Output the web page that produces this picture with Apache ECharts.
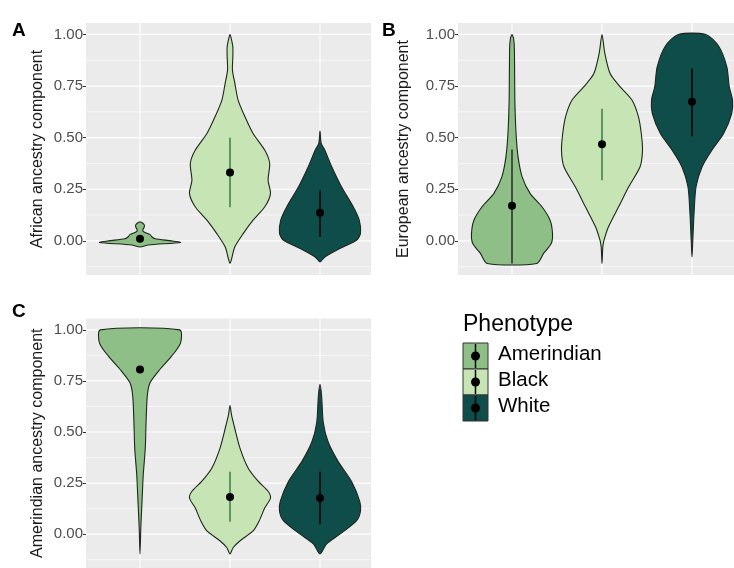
<!DOCTYPE html>
<html>
<head>
<meta charset="utf-8">
<script src="https://cdn.jsdelivr.net/npm/echarts@6/dist/echarts.min.js"></script>
<style>
  html, body { margin: 0; padding: 0; background: #ffffff; }
  #chart { width: 734px; height: 568px; }
</style>
</head>
<body>
<div id="chart"></div>
<script>
// Groups and their colours
const phenotypes = ['Amerindian', 'Black', 'White'];
const fillColors = ['#8dbf86', '#c7e5b4', '#0e4d4a'];
const rangeColors = ['#2a2a2a', '#3a7d44', '#000000'];

// Panels
const panelLetters = ['A', 'B', 'C'];
const axisTitles = ['African ancestry component', 'European ancestry component', 'Amerindian ancestry component'];
const tickValues = [0, 0.25, 0.5, 0.75, 1];
const minorTickValues = [-0.125, 0.125, 0.375, 0.625, 0.875];
const tickLabels = ['0.00', '0.25', '0.50', '0.75', '1.00'];

// Kernel density outlines: ancestry level and relative density (1 = widest)
// African component
const afrAmerLevels  = [-0.03, -0.02, -0.008, 0.0, 0.01, 0.02, 0.03, 0.045, 0.055, 0.065, 0.075, 0.085, 0.092];
const afrAmerDensity = [0, 0.20, 1, 0.78, 0.37, 0.29, 0.25, 0.08, 0.07, 0.10, 0.11, 0.07, 0];
const afrBlkLevels   = [-0.11, -0.094, -0.029, 0.036, 0.100, 0.165, 0.229, 0.294, 0.375, 0.439, 0.520, 0.601, 0.682, 0.763, 0.827, 0.892, 0.940, 0.981, 1.0];
const afrBlkDensity  = [0, 0.03, 0.12, 0.33, 0.57, 0.86, 1, 0.94, 0.98, 0.86, 0.57, 0.37, 0.20, 0.12, 0.06, 0.07, 0.07, 0.03, 0];
const afrWhtLevels   = [-0.102, -0.078, -0.037, 0.003, 0.036, 0.100, 0.165, 0.262, 0.359, 0.439, 0.472, 0.532];
const afrWhtDensity  = [0, 0.12, 0.49, 0.90, 1, 0.97, 0.82, 0.53, 0.29, 0.12, 0.03, 0];

// European component
const eurAmerLevels  = [-0.11, -0.061, -0.013, 0.036, 0.100, 0.165, 0.229, 0.310, 0.407, 0.520, 0.682, 0.924, 0.98, 1.0];
const eurAmerDensity = [0.61, 0.78, 0.97, 1, 0.94, 0.74, 0.45, 0.25, 0.15, 0.10, 0.07, 0.06, 0.04, 0];
const eurBlkLevels   = [-0.11, -0.029, 0.003, 0.068, 0.165, 0.262, 0.359, 0.439, 0.520, 0.601, 0.682, 0.746, 0.811, 0.908, 1.0];
const eurBlkDensity  = [0, 0.02, 0.05, 0.16, 0.41, 0.66, 0.94, 1, 0.97, 0.90, 0.74, 0.45, 0.20, 0.07, 0];
const eurWhtLevels   = [-0.078, 0.003, 0.132, 0.262, 0.359, 0.439, 0.520, 0.617, 0.682, 0.746, 0.843, 0.943, 1.0];
const eurWhtDensity  = [0, 0.02, 0.05, 0.10, 0.25, 0.49, 0.78, 0.98, 1, 0.92, 0.86, 0.66, 0.34];

// Amerindian component
const amrAmerLevels  = [-0.097, 0.032, 0.161, 0.290, 0.419, 0.548, 0.677, 0.742, 0.806, 0.871, 0.935, 1.0];
const amrAmerDensity = [0, 0.02, 0.05, 0.08, 0.13, 0.15, 0.18, 0.25, 0.49, 0.78, 1, 0.98];
const amrBlkLevels   = [-0.097, -0.065, -0.032, 0.016, 0.065, 0.129, 0.177, 0.210, 0.258, 0.323, 0.419, 0.516, 0.581, 0.629];
const amrBlkDensity  = [0, 0.08, 0.25, 0.57, 0.72, 0.86, 1, 0.94, 0.70, 0.45, 0.25, 0.12, 0.04, 0];
const amrWhtLevels   = [-0.097, -0.048, 0.0, 0.065, 0.113, 0.161, 0.258, 0.355, 0.452, 0.548, 0.677, 0.734];
const amrWhtDensity  = [0, 0.16, 0.49, 0.90, 1, 0.98, 0.78, 0.45, 0.20, 0.08, 0.04, 0];

// Group means and intervals (null = interval not drawn)
const afrMeans = [0.01, 0.331, 0.136];
const afrLow   = [null, 0.163, 0.02];
const afrHigh  = [null, 0.50, 0.245];
const eurMeans = [0.17, 0.468, 0.674];
const eurLow   = [-0.11, 0.294, 0.507];
const eurHigh  = [0.443, 0.64, 0.835];
const amrMeans = [0.806, 0.182, 0.177];
const amrLow   = [null, 0.061, 0.048];
const amrHigh  = [null, 0.306, 0.306];

const panels = [
  { levels: [afrAmerLevels, afrBlkLevels, afrWhtLevels], density: [afrAmerDensity, afrBlkDensity, afrWhtDensity],
    means: afrMeans, low: afrLow, high: afrHigh },
  { levels: [eurAmerLevels, eurBlkLevels, eurWhtLevels], density: [eurAmerDensity, eurBlkDensity, eurWhtDensity],
    means: eurMeans, low: eurLow, high: eurHigh },
  { levels: [amrAmerLevels, amrBlkLevels, amrWhtLevels], density: [amrAmerDensity, amrBlkDensity, amrWhtDensity],
    means: amrMeans, low: amrLow, high: amrHigh }
];

// Layout
const FONT = '"Liberation Sans", Arial, Helvetica, sans-serif';
const Y_MIN = -0.1655, Y_MAX = 1.0555;
const MAX_HALF = 0.45;  // half of the violin width, in category units
const gridBoxes = [
  { left: 86,  top: 23,    width: 285, height: 252 },
  { left: 458, top: 23,    width: 276, height: 252 },
  { left: 86,  top: 318.5, width: 285, height: 252.4 }
];
const PX_PER_CAT = 90;
const nameGaps = [40, 46, 40];

const grids = gridBoxes.map(b => ({
  left: b.left, top: b.top, width: b.width, height: b.height,
  show: true, backgroundColor: '#ebebeb', borderWidth: 0, containLabel: false
}));

const xAxes = gridBoxes.map((b, i) => ({
  type: 'value', gridIndex: i, min: 0.4, max: 0.4 + b.width / PX_PER_CAT,
  axisLine: { show: false }, axisTick: { show: false }, axisLabel: { show: false },
  splitLine: { show: false }
}));

const yAxes = gridBoxes.map((b, i) => ({
  type: 'value', gridIndex: i, min: Y_MIN, max: Y_MAX,
  name: axisTitles[i], nameLocation: 'middle', nameGap: nameGaps[i],
  nameTextStyle: { fontFamily: FONT, fontSize: 16, color: '#1a1a1a' },
  axisLine: { show: false },
  axisTick: { show: true, length: 3, customValues: tickValues, lineStyle: { color: '#333333', width: 1 } },
  axisLabel: {
    customValues: tickValues, margin: 3, fontFamily: FONT, fontSize: 15, color: '#4d4d4d',
    formatter: v => tickLabels[tickValues.findIndex(t => Math.abs(t - v) < 1e-9)]
  },
  splitLine: { show: false }
}));

const series = [];

panels.forEach((p, pi) => {
  // background grid lines
  series.push({
    type: 'custom', xAxisIndex: pi, yAxisIndex: pi, silent: true, z: 1,
    data: [[1, 0]],
    renderItem: (params, api) => {
      const cs = params.coordSys;
      const children = [];
      minorTickValues.forEach(v => {
        const y = api.coord([1, v])[1];
        children.push({ type: 'line', shape: { x1: cs.x, y1: y, x2: cs.x + cs.width, y2: y },
          style: { stroke: '#ffffff', lineWidth: 0.6 } });
      });
      tickValues.forEach(v => {
        const y = api.coord([1, v])[1];
        children.push({ type: 'line', shape: { x1: cs.x, y1: y, x2: cs.x + cs.width, y2: y },
          style: { stroke: '#ffffff', lineWidth: 1.2 } });
      });
      [1, 2, 3].forEach(c => {
        const x = api.coord([c, 0])[0];
        children.push({ type: 'line', shape: { x1: x, y1: cs.y, x2: x, y2: cs.y + cs.height },
          style: { stroke: '#ffffff', lineWidth: 1.1 } });
      });
      return { type: 'group', children };
    }
  });

  // violins
  phenotypes.forEach((name, gi) => {
    const levels = p.levels[gi];
    const dens = p.density[gi];
    const center = gi + 1;
    series.push({
      type: 'custom', name, xAxisIndex: pi, yAxisIndex: pi, z: 2,
      data: [[center, p.means[gi]]],
      renderItem: (params, api) => {
        const right = [], left = [];
        for (let k = 0; k < levels.length; k++) {
          const hw = dens[k] * MAX_HALF;
          right.push(api.coord([center + hw, levels[k]]));
          if (hw > 0) left.push(api.coord([center - hw, levels[k]]));
          else left.push(null);
        }
        const pts = right.slice();
        for (let k = levels.length - 1; k >= 0; k--) {
          if (left[k]) pts.push(left[k]);
        }
        return {
          type: 'polygon',
          shape: { points: pts, smooth: 0.25 },
          style: { fill: fillColors[gi], stroke: '#1e261e', lineWidth: 1.1 }
        };
      }
    });
  });

  // intervals
  series.push({
    type: 'custom', xAxisIndex: pi, yAxisIndex: pi, z: 3, silent: true,
    data: phenotypes.map((_, gi) => [gi + 1, p.low[gi], p.high[gi], gi]).filter(d => d[1] !== null),
    renderItem: (params, api) => {
      const x = api.value(0);
      const a = api.coord([x, api.value(1)]);
      const b = api.coord([x, api.value(2)]);
      return { type: 'line', shape: { x1: a[0], y1: a[1], x2: b[0], y2: b[1] },
        style: { stroke: rangeColors[api.value(3)], lineWidth: 1.5 } };
    }
  });

  // means
  series.push({
    type: 'scatter', xAxisIndex: pi, yAxisIndex: pi, z: 4, silent: true,
    symbol: 'circle', symbolSize: 8,
    itemStyle: { color: '#000000', opacity: 1 },
    data: p.means.map((m, gi) => [gi + 1, m])
  });
});

// Panel letters
const letterPos = [[12, 21], [382, 21], [12, 302]];
const graphics = panelLetters.map((t, i) => ({
  type: 'text', left: letterPos[i][0], top: letterPos[i][1],
  style: { text: t, font: 'bold 19px ' + FONT, fill: '#000000' }
}));

// Legend
const LEG_X = 463, LEG_Y = 343, KEY_W = 25, KEY_H = 26;
graphics.push({
  type: 'text', left: LEG_X, top: 313,
  style: { text: 'Phenotype', font: '23px ' + FONT, fill: '#000000' }
});
phenotypes.forEach((name, gi) => {
  const y0 = LEG_Y + gi * KEY_H;
  graphics.push({ type: 'rect', shape: { x: LEG_X, y: y0, width: KEY_W, height: KEY_H },
    style: { fill: fillColors[gi], stroke: '#333333', lineWidth: 1 } });
  graphics.push({ type: 'line', shape: { x1: LEG_X + KEY_W / 2, y1: y0 + 1, x2: LEG_X + KEY_W / 2, y2: y0 + KEY_H - 1 },
    style: { stroke: '#000000', lineWidth: 1.5 } });
  graphics.push({ type: 'circle', shape: { cx: LEG_X + KEY_W / 2, cy: y0 + KEY_H / 2, r: 4.5 },
    style: { fill: '#000000' } });
  graphics.push({ type: 'text', left: 498, top: y0 + KEY_H / 2 - 12,
    style: { text: name, font: '20.5px ' + FONT, fill: '#000000' } });
});

const chart = echarts.init(document.getElementById('chart'), null, { renderer: 'canvas' });
chart.setOption({
  animation: false,
  backgroundColor: '#ffffff',
  grid: grids,
  xAxis: xAxes,
  yAxis: yAxes,
  series,
  graphic: graphics
});
</script>
</body>
</html>
